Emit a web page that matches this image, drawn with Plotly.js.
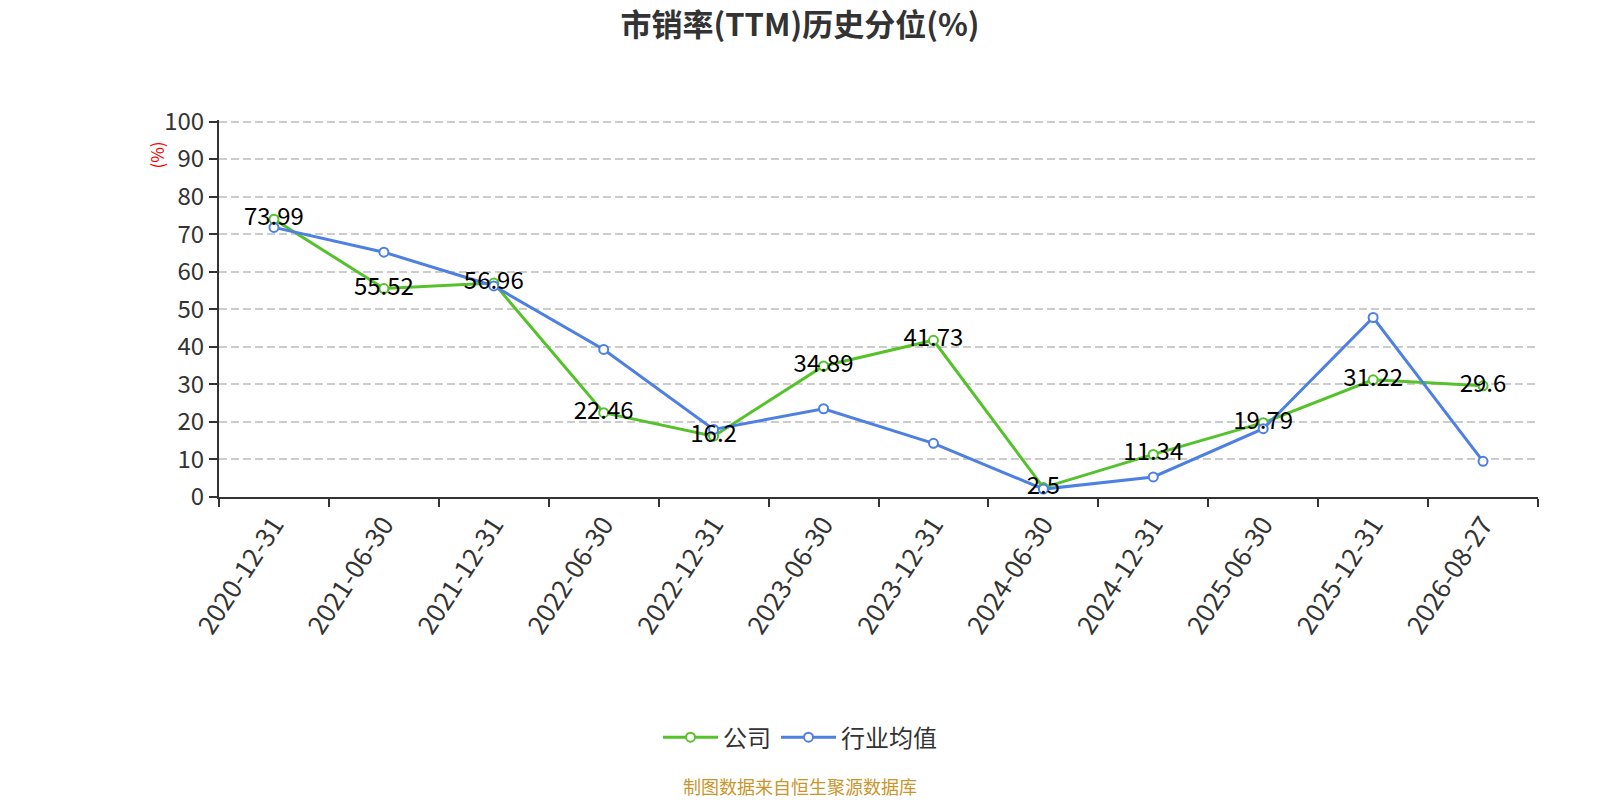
<!DOCTYPE html>
<html>
<head>
<meta charset="utf-8">
<script src="https://cdn.plot.ly/plotly-3.0.1.min.js"></script>
<style>
  html, body { margin: 0; padding: 0; background: #fff; }
  #chart { width: 1600px; height: 800px; }
</style>
</head>
<body>
<div id="chart"></div>
<script>
// ── Data ──
const dates = [
    '2020-12-31', '2021-06-30', '2021-12-31', '2022-06-30', '2022-12-31', '2023-06-30',
    '2023-12-31', '2024-06-30', '2024-12-31', '2025-06-30', '2025-12-31', '2026-08-27'
];
const companyValues = [73.99, 55.52, 56.96, 22.46, 16.2, 34.89, 41.73, 2.5, 11.34, 19.79, 31.22, 29.6];
const industryValues = [71.8, 65.2, 56.2, 39.3, 18.0, 23.5, 14.3, 2.1, 5.35, 18.2, 47.8, 9.5];
const seriesNames = ['公司', '行业均值'];

const FONT = '"Noto Sans CJK SC", "Microsoft YaHei", sans-serif';
const GREEN = '#55c22b';
const BLUE = '#4d80e2';

const traces = [
    {
        x: dates, y: companyValues, name: seriesNames[0],
        type: 'scatter', mode: 'lines+markers',
        line: { color: GREEN, width: 3 },
        marker: { size: 9, color: '#fff', line: { color: GREEN, width: 2 } },
        hoverinfo: 'skip',
    },
    {
        x: dates, y: industryValues, name: seriesNames[1],
        type: 'scatter', mode: 'lines+markers',
        line: { color: BLUE, width: 3 },
        marker: { size: 9, color: '#fff', line: { color: BLUE, width: 2 } },
        hoverinfo: 'skip',
    },
    // value labels for the company series, drawn on top
    {
        x: dates, y: companyValues, text: companyValues.map(String),
        type: 'scatter', mode: 'text', showlegend: false,
        textposition: 'middle center',
        textfont: { family: FONT, size: 24, color: '#000' },
        hoverinfo: 'skip',
    },
];

const layout = {
    width: 1600, height: 800,
    paper_bgcolor: '#fff', plot_bgcolor: '#fff',
    margin: { l: 219, r: 62, t: 120, b: 303 },
    font: { family: FONT, color: '#333' },
    title: {
        text: '<b>市销率(TTM)历史分位(%)</b>',
        font: { family: FONT, size: 31, color: '#333' },
        xref: 'container', x: 0.5, xanchor: 'center',
        yref: 'container', y: 0.969, yanchor: 'middle',
    },
    xaxis: {
        type: 'category',
        tickson: 'boundaries',
        ticks: 'outside', ticklen: 8, tickwidth: 2, tickcolor: '#333',
        showline: true, linecolor: '#333', linewidth: 2,
        showgrid: false, zeroline: false,
        tickangle: -57,
        tickfont: { family: FONT, size: 26, color: '#333' },
        range: [-0.5, dates.length - 0.5],
    },
    yaxis: {
        range: [0, 100.4], tickvals: [0, 10, 20, 30, 40, 50, 60, 70, 80, 90, 100],
        ticks: 'outside', ticklen: 8, tickwidth: 2, tickcolor: '#333',
        showline: true, linecolor: '#333', linewidth: 2,
        showgrid: true, gridcolor: '#cccccc', griddash: '8px,4px', gridwidth: 1.5,
        zeroline: false,
        tickfont: { family: FONT, size: 24, color: '#333' },
    },
    showlegend: true,
    legend: {
        orientation: 'h',
        xref: 'container', x: 0.5, xanchor: 'center',
        yref: 'container', y: 0.078, yanchor: 'middle',
        font: { family: FONT, size: 24, color: '#333' },
        itemwidth: 55,
    },
    annotations: [
        {
            text: '(%)', xref: 'paper', yref: 'paper',
            x: -0.0472, y: 0.9077, xanchor: 'center', yanchor: 'middle',
            textangle: -90, showarrow: false,
            font: { family: FONT, size: 17, color: '#ff0000' },
        },
        {
            text: '制图数据来自恒生聚源数据库', xref: 'paper', yref: 'paper',
            x: 0.4405, y: -0.766, xanchor: 'center', yanchor: 'middle', showarrow: false,
            font: { family: FONT, size: 18, color: '#c9952c' },
        },
    ],
};

Plotly.newPlot('chart', traces, layout, { displayModeBar: false, responsive: false });
</script>
</body>
</html>
